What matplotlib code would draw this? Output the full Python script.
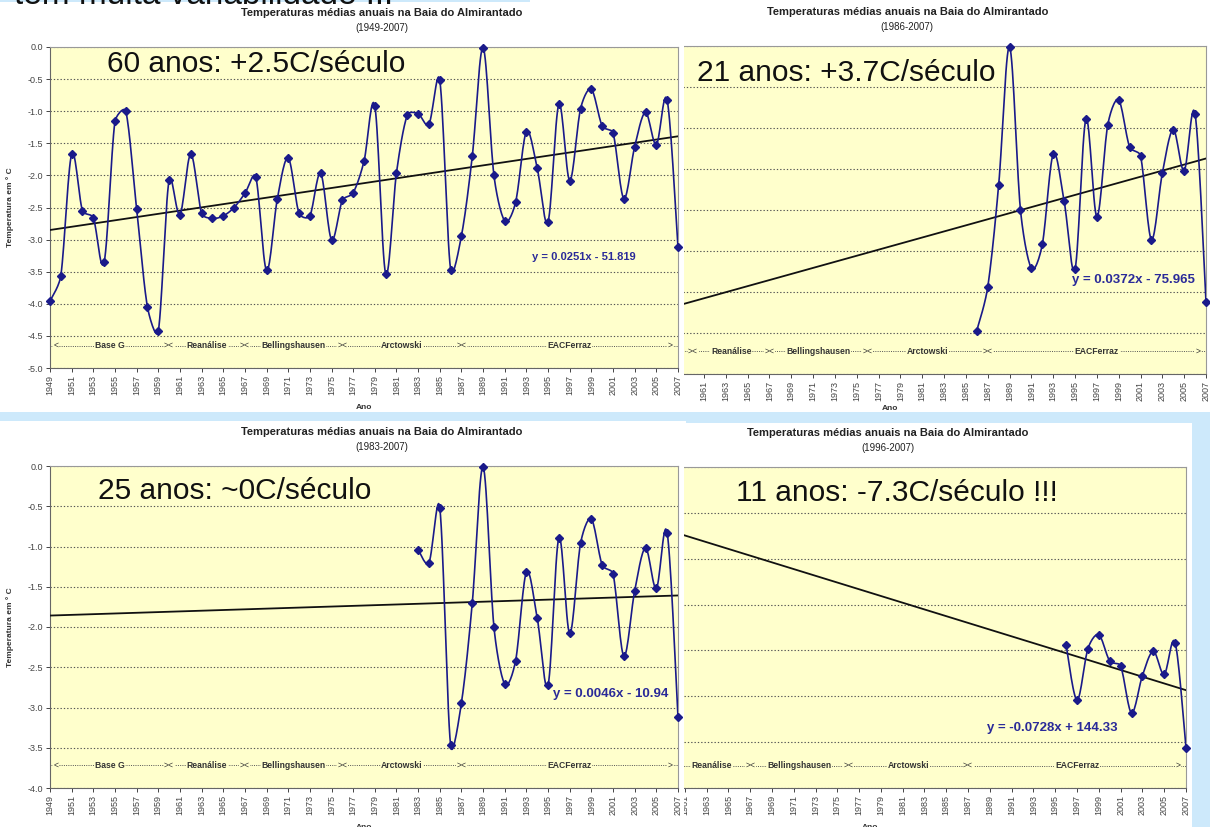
import numpy as np
import matplotlib
matplotlib.use("Agg")
import matplotlib.pyplot as plt
import matplotlib.transforms as mtransforms
from matplotlib.patches import Rectangle
from matplotlib.ticker import MultipleLocator, FormatStrFormatter

plt.rcParams['font.family'] = ['Liberation Sans', 'DejaVu Sans']

# ---- data --------------------------------------------------------------
years = np.arange(1949, 2008)
temps = [-3.96, -3.56, -1.67, -2.55, -2.66, -3.35, -1.16, -1.00, -2.52, -4.05,
         -4.43, -2.07, -2.61, -1.67, -2.59, -2.67, -2.63, -2.50, -2.28, -2.02,
         -3.48, -2.36, -1.73, -2.59, -2.63, -1.97, -3.00, -2.39, -2.27, -1.78,
         -0.92, -3.53, -1.96, -1.06, -1.04, -1.20, -0.52, -3.47, -2.94, -1.70,
         -0.01, -2.00, -2.71, -2.42, -1.32, -1.89, -2.72, -0.89, -2.08, -0.96,
         -0.66, -1.23, -1.34, -2.36, -1.55, -1.02, -1.52, -0.83, -3.12]

start_years = [1949, 1986, 1983, 1996]          # TL, TR, BL, BR
big_labels = ["60 anos: +2.5C/século", "21 anos: +3.7C/século",
              "25 anos: ~0C/século", "11 anos: -7.3C/século !!!"]
equations = ["y = 0.0251x - 51.819", "y = 0.0372x - 75.965",
             "y = 0.0046x - 10.94", "y = -0.0728x + 144.33"]
ylims = [(-5.0, 0.0), (-4.0, 0.0), (-4.0, 0.0), (-4.0, 3.0)]
ysteps = [0.5, 0.5, 0.5, 1.0]

station_names = ["Base G", "Reanálise", "Bellingshausen", "Arctowski", "EACFerraz"]
station_bounds = [1949, 1960, 1967, 1976, 1987, 2007]

title = "Temperaturas médias anuais na Baia do Almirantado"
top_text = "tem muita variabilidade ..."

NAVY = '#1a1a8a'
YELLOW = '#ffffcc'
LBLUE = '#cde9fb'
W, H = 1210, 827
COVER = 684   # left charts' white area ends here (px)


def smooth(x, y, sx, sy, n=16):
    # excel-like smoothed line: catmull-rom bezier handles (1/6 of the
    # neighbour chord), capped so short segments do not bulge (screen space)
    P = np.column_stack([np.asarray(x, float) * sx, np.asarray(y, float) * sy])
    N = len(P)
    Q = np.vstack([P[0], P, P[-1]])
    T = np.array([(Q[i + 2] - Q[i]) / 6 for i in range(N)])
    t = np.linspace(0, 1, n)[:, None]
    out = []
    for i in range(N - 1):
        p0, p3 = P[i], P[i + 1]
        L = np.hypot(*(p3 - p0))
        h1, h2 = T[i].copy(), T[i + 1].copy()
        for h in (h1, h2):
            mag = np.hypot(*h)
            if mag > L / 2.5:
                h *= (L / 2.5) / mag
        c1 = p0 + h1
        c2 = p3 - h2
        seg = (1 - t) ** 3 * p0 + 3 * (1 - t) ** 2 * t * c1 + 3 * (1 - t) * t ** 2 * c2 + t ** 3 * p3
        out.append(seg if i == 0 else seg[1:])
    out = np.vstack(out)
    return out[:, 0] / sx, out[:, 1] / sy


def add_ax(box):
    l, r, t, b = box
    return fig.add_axes([l / W, 1 - b / H, (r - l) / W, (b - t) / H])


def draw_chart(ax, k, box, big_pos, eq_pos, eq_size, left_chart=True, ano_y=-0.112):
    l, r, t, b = box
    sx = (r - l) / (years[-1] - years[0])
    sy = (b - t) / (ylims[k][1] - ylims[k][0])

    ax.set_facecolor(YELLOW)
    ax.set_xlim(years[0], years[-1])
    ax.set_ylim(*ylims[k])
    ax.yaxis.set_major_locator(MultipleLocator(ysteps[k]))
    ax.yaxis.set_major_formatter(FormatStrFormatter('%.1f'))
    ax.set_xticks(years[::2])
    ax.set_xticklabels([str(v) for v in years[::2]], rotation=90)
    ax.tick_params(labelsize=6.5, colors='#444444', length=3, width=0.7, pad=2)
    if not left_chart:
        ax.tick_params(axis='y', labelleft=False)
        # labels hidden under the left-hand chart
        for lbl, xv in zip(ax.get_xticklabels(), years[::2]):
            if l + (xv - years[0]) * sx < COVER - 8:
                lbl.set_visible(False)
    ax.grid(axis='y', color='#555555', ls=(0, (1.2, 1.8)), lw=0.8)
    for s in ax.spines.values():
        s.set_color('#999999')
        s.set_linewidth(0.8)
    ax.spines['left'].set_color('#666666')
    ax.spines['bottom'].set_color('#666666')

    sel = years >= start_years[k]
    x = years[sel]
    y = np.array(temps)[sel]

    # trend line over the whole axis
    m, c = np.polyfit(x, y, 1)
    xt = np.array([years[0], years[-1]])
    ax.plot(xt, m * xt + c, color='#111111', lw=1.3, zorder=3)

    xs, ys = smooth(x, y, sx, sy)
    ax.plot(xs, ys, color=NAVY, lw=1.2, zorder=4)
    ax.plot(x, y, 'D', ms=3.8, color=NAVY, zorder=5, clip_on=False)

    ax.text(0.528, 1.105, title, transform=ax.transAxes, ha='center', va='center',
            fontsize=8, fontweight='bold', color='#222222')
    ax.text(0.528, 1.058, "(%d-2007)" % start_years[k], transform=ax.transAxes,
            ha='center', va='center', fontsize=7, color='#222222')

    ax.text(big_pos[0], big_pos[1], big_labels[k], transform=ax.transAxes,
            ha='left', va='baseline', fontsize=21.5, color='#111111')
    ax.text(eq_pos[0], eq_pos[1], equations[k], transform=ax.transAxes,
            ha='center', va='center', fontsize=eq_size, fontweight='bold', color='#2a2a99')

    ax.set_xlabel("Ano", fontsize=6, fontweight='bold', color='#333333')
    ax.xaxis.set_label_coords(0.5, ano_y)
    if left_chart:
        ax.set_ylabel("Temperatura em ° C", fontsize=6, fontweight='bold', color='#333333')
        ax.yaxis.set_label_coords(-0.057, 0.5)

    # station segments
    tr = mtransforms.blended_transform_factory(ax.transData, ax.transAxes)
    yf = 0.07
    ax.plot([station_bounds[0], station_bounds[-1]], [yf, yf], transform=tr,
            color='#555555', ls=(0, (1, 1.3)), lw=0.7, zorder=2)
    box_st = dict(fc=YELLOW, ec='none', pad=0.4)
    marks = [(station_bounds[0] + 0.3, "<", 'left')]
    marks += [(bd, "><", 'center') for bd in station_bounds[1:-1]]
    marks += [(station_bounds[-1] - 0.5, ">", 'right')]
    items = [((a + bb) / 2, name, 'center', 'bold')
             for name, a, bb in zip(station_names, station_bounds[:-1], station_bounds[1:])]
    items += [(xm, s, ha, 'normal') for xm, s, ha in marks]
    for xm, s, ha, fw in items:
        # skip the pieces hidden under the left-hand chart
        if not left_chart and l + (xm - years[0]) * sx < COVER - 10:
            continue
        ax.text(xm, yf, s, transform=tr, ha=ha, va='center', fontsize=6.2,
                fontweight=fw, color='#333333', bbox=box_st, zorder=2.5)


fig = plt.figure(figsize=(W / 100, H / 100), dpi=100)
fig.patch.set_facecolor('white')

box_tl = (50, 678, 47, 368)
box_tr = (573, 1206, 46, 374)
box_bl = (50, 678, 466, 788)
box_br = (554, 1186, 467, 788)

ax_tr = add_ax(box_tr)
ax_br = add_ax(box_br)
ax_tl = add_ax(box_tl)
ax_bl = add_ax(box_bl)

draw_chart(ax_tl, 0, box_tl, (0.091, 0.922), (0.85, 0.346), 8)
draw_chart(ax_tr, 1, box_tr, (0.196, 0.893), (0.885, 0.287), 9.5, left_chart=False, ano_y=-0.094)
draw_chart(ax_bl, 2, box_bl, (0.076, 0.898), (0.893, 0.292), 9.5)
draw_chart(ax_br, 3, box_br, (0.288, 0.894), (0.788, 0.187), 9.5, left_chart=False)

# right charts sit behind the left ones
ax_tr.set_zorder(1)
ax_br.set_zorder(1)
cover = Rectangle((0, 0), COVER / W, 1, transform=fig.transFigure,
                  facecolor='white', edgecolor='none', zorder=2)
fig.add_artist(cover)
ax_tl.set_zorder(3)
ax_bl.set_zorder(3)

# slide background bands
for (x0, x1, y0, y1) in [(0, 530, 0, 2), (0, 686, 412, 421), (686, W, 412, 423), (1192, W, 412, H)]:
    fig.add_artist(Rectangle((x0 / W, 1 - y1 / H), (x1 - x0) / W, (y1 - y0) / H,
                             transform=fig.transFigure, facecolor=LBLUE,
                             edgecolor='none', zorder=4))

fig.text(14 / W, 1 - 4.5 / H, top_text, ha='left', va='baseline',
         fontsize=24, color='#111111', zorder=5)

fig.savefig("out.png", dpi=100)
